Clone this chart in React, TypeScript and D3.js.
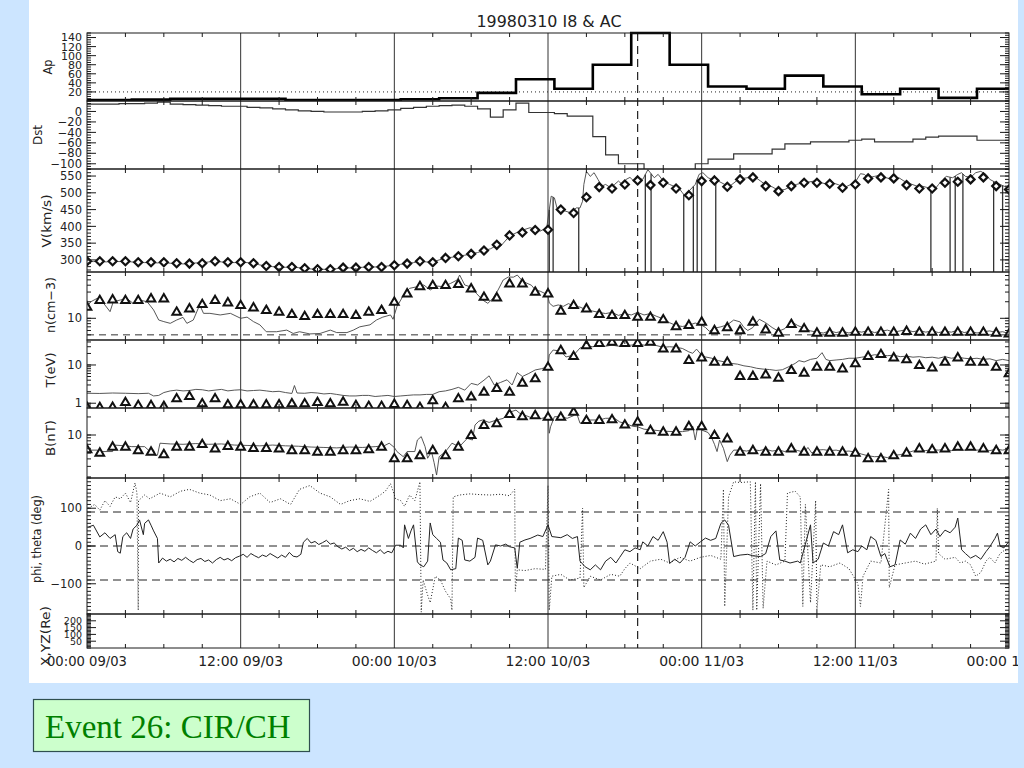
import React from "react";
import * as d3 from "d3";

type Pt = [number, number];

// ================= DATA =================
const title = "19980310 I8 & AC";
const caption = "Event 26: CIR/CH";

// time axis: hours since 00:00 09/03/1998
const xTickHours = [0, 12, 24, 36, 48, 60, 72];
const xTickLabels = ["00:00 09/03", "12:00 09/03", "00:00 10/03", "12:00 10/03", "00:00 11/03", "12:00 11/03", "00:00 12/03"];
const xMinorHours = [3, 6, 9, 15, 18, 21, 27, 30, 33, 39, 42, 45, 51, 54, 57, 63, 66, 69];
const eventHour = 43;
const hourIndex = Array.from({ length: 73 }, (_, i) => i);

// Ap (3-hourly, step plot)
const apHours = [-1, 2, 5, 8, 11, 14, 17, 20, 23, 26, 29, 32, 35, 38, 41, 44, 47, 50, 53, 56, 59, 62, 65, 68, 71, 74];
const apValues = [2, 2, 3, 5, 5, 5, 2, 2, 2, 4, 6, 18, 48, 27, 80, 150, 80, 32, 27, 56, 32, 15, 27, 7, 27, 27];
const apTickValues = [20, 40, 60, 80, 100, 120, 140];
const apRef = 20;

// Dst (hourly, step plot)
const dstValues = [14, 14, 14, 15, 15, 16, 18, 14, 13, 12, 11, 10, 10, 8, 7, 5, 3, 1, 0, -1, -1, -1, 0, 1, 3, 6, 8, 10, 11, 12, 10, 5, -11, 3, 16, -2, -2, -4, -9, -9, -48, -83, -100, -100, -112, -116, -114, -111, -100, -91, -91, -81, -81, -81, -72, -62, -62, -58, -58, -58, -55, -53, -58, -58, -58, -53, -49, -47, -47, -47, -55, -55, -55];
const dstTickValues = [0, -20, -40, -60, -80, -100];

// V (km/s): hourly diamonds + high-res line + data dropouts
const vDiamonds = [296, 296, 296, 296, 293, 293, 293, 290, 289, 290, 296, 293, 293, 290, 282, 279, 279, 275, 272, 272, 277, 277, 279, 279, 284, 289, 296, 293, 306, 311, 318, 328, 345, 373, 382, 389, 390, 450, 440, 487, 517, 513, 525, 537, 523, 530, 513, 493, 535, 537, 518, 540, 546, 520, 505, 520, 530, 530, 527, 515, 525, 543, 546, 543, 523, 513, 513, 530, 533, 540, 546, 520, 510];
const vLine: Pt[] = [[0, 296], [0.5, 295], [1, 296], [1.5, 294], [2, 297], [2.5, 295], [3, 296], [3.5, 294], [4, 293], [4.5, 292], [5, 293], [5.5, 291], [6, 293], [6.5, 290], [7, 290], [7.5, 288], [8, 289], [8.5, 291], [9, 291], [9.5, 294], [10, 296], [10.5, 294], [11, 293], [11.5, 292], [12, 293], [12.5, 292], [13, 290], [13.5, 285], [14, 282], [14.5, 280], [15, 279], [15.5, 278], [16, 279], [16.5, 277], [17, 275], [17.5, 273], [18, 272], [18.5, 272], [19, 272], [19.5, 274], [20, 277], [20.5, 276], [21, 277], [21.5, 278], [22, 279], [22.5, 279], [23, 280], [23.5, 282], [24, 284], [24.5, 287], [25, 289], [25.5, 292], [26, 296], [26.5, 294], [27, 294], [27.5, 300], [28, 306], [28.5, 308], [29, 311], [29.5, 314], [30, 318], [30.5, 322], [31, 328], [31.5, 333], [32, 343], [32.3, 341], [33.0, 371], [33.8, 386], [34.6, 396], [35.4, 386], [35.9, 396], [36.25, 490], [36.5, 485], [36.7, 455], [37.0, 450], [37.4, 445], [37.8, 440], [38.2, 455], [38.5, 455], [38.7, 475], [38.8, 525], [39.0, 564], [39.3, 549], [39.6, 560], [39.9, 540], [40.2, 520], [40.5, 525], [40.9, 515], [41.2, 525], [41.5, 535], [41.8, 525], [42.1, 540], [42.4, 546], [42.7, 535], [43.0, 545], [43.4, 540], [43.8, 569], [44.3, 545], [44.6, 555], [44.9, 540], [45.2, 530], [45.5, 525], [45.8, 520], [46.2, 515], [46.5, 500], [46.7, 490], [47.0, 505], [47.5, 525], [47.8, 555], [48.1, 560], [48.5, 545], [48.8, 540], [49.3, 535], [49.8, 525], [50.2, 520], [50.7, 535], [51.2, 543], [51.6, 545], [52.1, 549], [52.6, 535], [53.0, 524], [53.5, 518], [54.0, 507], [54.5, 510], [54.9, 518], [55.4, 525], [55.9, 530], [56.3, 532], [56.8, 535], [57.3, 530], [57.7, 527], [58.2, 530], [58.7, 524], [59.1, 515], [59.6, 524], [60.1, 538], [60.4, 557], [60.7, 555], [61.0, 545], [61.5, 549], [62.0, 553], [62.4, 545], [62.9, 540], [63.4, 545], [63.8, 535], [64.3, 527], [64.8, 520], [65.2, 520], [65.7, 515], [66.2, 510], [66.5, 525], [66.8, 538], [67.1, 549], [67.6, 545], [68.0, 555], [68.3, 560], [68.6, 549], [69.0, 546], [69.4, 560], [69.8, 564], [70.2, 555], [70.5, 540], [71.0, 530], [71.3, 525], [71.6, 520], [72, 515]];
const vDrops = [36.1, 36.4, 38.4, 43.6, 44.05, 46.6, 47.35, 47.65, 49.1, 65.9, 67.4, 67.8, 68.4, 70.8, 71.5];
const vTickValues = [300, 350, 400, 450, 500, 550];

// n (cm^-3)
const nTriangles = [16.3, 21.5, 22.1, 21.5, 21.5, 23.1, 23.1, 13.2, 15.2, 18.2, 21.5, 19.5, 17.5, 15.8, 14.2, 13.2, 12.0, 11.0, 12.0, 12.0, 12.0, 11.5, 13.2, 14.2, 20.0, 28.5, 38.6, 40.3, 40.3, 42.1, 35.1, 24.7, 24.1, 43.2, 43.2, 30.5, 28.5, 13.8, 17.5, 15.2, 12.0, 11.5, 11.5, 10.7, 10.7, 9.6, 7.2, 7.6, 8.7, 6.1, 6.9, 6.1, 8.7, 6.3, 5.5, 7.9, 6.6, 5.5, 5.5, 5.5, 5.7, 5.7, 5.7, 5.7, 5.9, 5.7, 5.7, 5.7, 5.7, 5.7, 5.7, 5.5, 5.3];
const nLine: Pt[] = [[0, 16.3], [0.3, 20], [0.8, 23.1], [1.3, 18.7], [1.8, 13.2], [2.05, 20], [2.6, 21.5], [3.1, 23.1], [3.6, 18.7], [4.1, 21.5], [4.7, 20], [5.2, 14.2], [5.6, 9.3], [6.0, 8.7], [6.5, 8.1], [7.0, 9.3], [7.5, 10.4], [7.8, 8.1], [8.3, 9.3], [8.8, 17.5], [9.1, 12.3], [9.6, 12.3], [10.4, 11.5], [11.2, 12.3], [12.0, 10], [12.5, 10.5], [13.0, 8.7], [13.5, 7.6], [14.0, 5.7], [14.8, 5.7], [15.6, 6.1], [16.1, 5.3], [16.6, 5.7], [17.4, 5.2], [18.2, 5.3], [19.0, 6.1], [19.5, 5.5], [20.3, 5.5], [20.8, 6.1], [21.3, 7.0], [22.1, 7.6], [22.6, 9.3], [23.1, 10.5], [23.7, 11.5], [23.9, 9.6], [24.2, 16.3], [24.5, 21.5], [24.8, 28.5], [25.2, 35.1], [25.8, 37.6], [26.3, 40.3], [26.8, 32.7], [27.3, 38.6], [27.8, 37.6], [28.4, 43.2], [28.9, 49.7], [29.1, 61.2], [29.5, 40.3], [29.9, 37.6], [30.4, 28.5], [30.9, 21.5], [31.3, 18.7], [31.7, 23.1], [32.1, 32.7], [32.5, 49.7], [32.9, 56.4], [33.3, 56], [33.6, 61.2], [34.0, 48], [34.3, 44], [34.7, 40], [35.0, 33], [35.4, 31], [35.8, 28], [36.0, 25], [36.1, 19], [36.4, 16.5], [36.8, 17.5], [37.2, 16.5], [37.6, 18.5], [38.0, 16.5], [38.5, 16], [39.0, 14.2], [39.5, 13.5], [40.0, 12.8], [40.5, 12.2], [41.0, 12.8], [41.5, 11.3], [42.0, 12.2], [42.5, 11.5], [43.0, 12.8], [43.5, 11.5], [44.0, 12.2], [44.5, 10.8], [45.0, 9.8], [45.5, 8.3], [46.0, 7.4], [46.5, 7.1], [47.0, 7.5], [47.5, 8.2], [48.0, 7.5], [48.3, 6.8], [48.6, 5.8], [49.0, 6.6], [49.5, 7.0], [50.0, 7.6], [50.5, 9.3], [51.0, 8.6], [51.3, 6.8], [51.6, 6.0], [52.0, 6.8], [52.5, 9.6], [53.0, 8.3], [53.5, 6.8], [54.0, 5.8], [54.5, 6.5], [55.0, 8.7], [55.5, 7.4], [56.0, 6.6], [56.5, 5.9], [57.0, 5.6], [57.5, 5.4], [58, 5.9], [58.5, 5.5], [59, 5.8], [59.5, 5.4], [60, 5.9], [60.5, 5.6], [61, 6.0], [61.5, 5.5], [62, 5.8], [62.5, 6.1], [63, 5.6], [63.5, 5.9], [64, 6.2], [64.5, 5.7], [65, 6.0], [65.5, 5.6], [66, 5.9], [66.5, 5.5], [67, 5.8], [67.5, 5.6], [68, 6.1], [68.5, 5.5], [69, 5.8], [69.5, 5.4], [70, 5.7], [70.5, 5.9], [71, 5.5], [71.5, 5.7], [72, 5.3]];
const nRef = 5;
const nTickValues = [10];

// T (eV)
const tTriangles = [0.81, 0.79, 0.81, 1.08, 0.9, 0.9, 0.85, 1.35, 1.55, 1.0, 1.35, 0.94, 0.94, 0.94, 0.94, 0.94, 1.0, 1.0, 1.08, 1.0, 1.1, 0.9, 0.85, 0.85, 0.96, 0.9, 0.8, 1.2, 0.8, 1.35, 1.5, 2.0, 2.5, 2.0, 3.45, 4.5, 9.0, 24.5, 17.2, 33, 38, 40.6, 38, 38, 40.6, 27, 27, 13.5, 15.9, 12.2, 12.2, 5.2, 5.2, 5.7, 4.66, 7.4, 6.3, 9.0, 9.0, 8.2, 11.1, 17.2, 19.4, 15.9, 14.1, 10, 8.7, 12.2, 15.9, 12.2, 12.2, 9.0, 6.1];
const tLine: Pt[] = [[0, 1.82], [1, 1.8], [2, 1.85], [3, 1.82], [4, 1.78], [4.8, 1.82], [5.2, 1.55], [5.6, 1.6], [6.0, 1.9], [6.5, 2.1], [7, 2.2], [7.5, 2.1], [8, 2.15], [8.5, 2.3], [9, 2.25], [9.5, 2.1], [10, 2.2], [10.5, 2.3], [11, 2.1], [11.5, 2.2], [12, 2.25], [12.5, 2.1], [13, 2.15], [13.5, 2.2], [14, 2.1], [14.5, 2.0], [15, 2.05], [15.5, 1.9], [16, 1.8], [16.2, 2.9], [16.4, 1.85], [17, 1.82], [17.5, 1.9], [18, 1.85], [18.5, 1.75], [19, 1.8], [19.5, 1.7], [20, 1.6], [20.5, 1.55], [21, 1.55], [21.5, 1.6], [22, 1.6], [22.5, 1.5], [23, 1.55], [23.5, 1.6], [24, 1.5], [24.5, 1.55], [25, 1.6], [25.5, 1.65], [26, 1.65], [26.5, 1.7], [27, 1.7], [27.5, 2.0], [28, 2.1], [28.5, 2.3], [29, 2.6], [29.5, 2.2], [30, 3.3], [30.5, 3.0], [31.0, 4.0], [31.4, 5.2], [31.8, 3.0], [32.3, 3.5], [32.8, 4.1], [33.2, 3.0], [33.6, 6.3], [34, 5.0], [34.5, 6.0], [35, 7.4], [35.5, 8.0], [36, 9.0], [36.1, 18.3], [36.4, 24.6], [37, 23], [37.4, 16.2], [38, 18], [38.5, 27.8], [39, 31.8], [39.5, 30], [40, 32], [40.5, 31], [41, 33], [41.5, 31], [42, 32], [42.5, 33], [43, 35.4], [43.5, 33], [44, 34], [44.5, 32], [45, 29], [45.5, 30], [46, 29], [46.5, 27], [47, 22], [47.3, 20.2], [47.6, 26], [48, 18], [48.3, 16.2], [48.8, 15], [49.3, 13], [49.8, 12], [50.3, 11], [50.8, 10.5], [51.3, 9.5], [51.8, 9], [52.3, 8.2], [52.8, 7.8], [53.3, 7.6], [53.8, 7.2], [54.3, 7.5], [54.8, 9], [55.3, 11], [55.6, 13], [56, 12], [56.5, 14], [57, 15], [57.4, 21], [57.7, 14], [58, 13], [58.5, 13.5], [59, 14], [59.5, 15], [60, 15], [60.5, 16], [61, 17], [61.5, 18.5], [62, 18], [62.5, 17.5], [63, 18], [63.5, 16.5], [64, 17], [64.5, 16], [65, 16.5], [65.5, 15.5], [66, 16], [66.5, 15], [67, 16.5], [67.5, 15], [68, 16], [68.5, 15], [69, 14.5], [69.5, 15], [70, 14], [70.5, 14.5], [71, 13], [71.5, 14], [72, 13]];
const tTickValues = [1, 10];

// B (nT)
const bTriangles = [5.8, 5.1, 6.4, 6.4, 5.6, 5.3, 4.8, 6.4, 6.4, 7.1, 6.0, 6.6, 6.4, 6.1, 6.1, 6.0, 5.6, 5.6, 5.3, 5.3, 5.6, 5.6, 5.8, 6.4, 4.1, 4.1, 4.6, 5.6, 4.6, 6.4, 10, 14.7, 15.7, 22.4, 20.7, 21.5, 20.2, 20.2, 24.4, 17.8, 17.8, 18.3, 15, 16.7, 12.1, 11.4, 11.4, 14.1, 14.1, 10, 8.8, 5.3, 5.6, 5.3, 5.3, 6.0, 5.3, 5.3, 5.3, 5.3, 5.1, 4.1, 4.1, 4.6, 5.1, 6.0, 5.8, 6.0, 6.4, 6.4, 6.0, 5.6, 5.6];
const bLine: Pt[] = [[0, 5.6], [0.8, 5.6], [1.0, 5.3], [2.0, 5.3], [2.1, 6.8], [3.0, 6.6], [3.5, 6.4], [4.5, 6.4], [4.8, 5.6], [5.2, 5.6], [5.3, 4.6], [5.5, 4.6], [5.7, 7.3], [6.5, 7.1], [7.5, 7.0], [8.5, 7.2], [9.5, 7.0], [10.5, 7.1], [11.5, 6.8], [12.5, 6.7], [13.5, 6.6], [14.5, 6.8], [15.5, 6.6], [16.5, 6.5], [17.5, 6.3], [18.5, 6.2], [19.5, 6.1], [20.5, 6.3], [21.5, 6.2], [22.5, 6.4], [23.2, 6.6], [23.6, 7.3], [24.0, 6.2], [24.2, 5.3], [24.7, 4.35], [25.0, 5.3], [25.6, 5.3], [25.8, 8.25], [26.1, 9.4], [26.4, 6.4], [26.6, 4.1], [26.9, 5.3], [27.1, 3.5], [27.3, 2.15], [27.5, 4.35], [28.0, 5.3], [28.5, 7.3], [28.8, 6.8], [29.2, 6.8], [29.7, 8.8], [30.1, 8.25], [30.3, 14.7], [30.6, 17], [30.9, 17.8], [31.4, 16.2], [32.0, 17.8], [32.5, 18.9], [33.0, 24], [33.5, 26], [33.8, 23], [34.3, 21], [34.8, 19], [35.5, 18.9], [36.0, 20.2], [36.1, 10.7], [36.2, 13.7], [36.5, 20.2], [37.0, 20.2], [37.5, 19], [38.0, 21], [38.2, 24.4], [38.5, 15.7], [39.0, 17.8], [40.0, 17.8], [40.5, 19], [41.2, 19], [41.6, 16.5], [42.0, 15.7], [42.6, 14], [43.0, 13.7], [43.5, 12.5], [44.2, 12.1], [45.0, 11.6], [45.8, 11.4], [46.5, 11.4], [47.0, 11.8], [47.3, 14.1], [47.5, 8.25], [47.7, 14.1], [48.0, 12.1], [48.5, 11], [48.8, 8.8], [49.0, 7], [49.2, 5.3], [49.4, 8.25], [49.7, 6.0], [50.0, 3.6], [50.2, 4.6], [50.5, 5.6], [51.0, 5.6], [51.5, 5.4], [52, 5.7], [52.5, 5.5], [53, 5.8], [53.5, 5.4], [54, 5.6], [54.5, 5.3], [55, 5.9], [55.5, 5.5], [56, 5.2], [56.3, 6.2], [56.6, 5.0], [57, 5.6], [57.5, 5.7], [58, 5.5], [58.5, 5.6], [59, 5.3], [59.5, 5.4], [60, 5.2], [60.5, 4.8], [61, 4.5], [61.5, 4.35], [62, 4.4], [62.5, 4.2], [63, 4.6], [63.5, 4.7], [64, 5.0], [64.5, 5.4], [65, 5.6], [65.5, 5.5], [66, 5.7], [66.5, 5.6], [67, 5.8], [67.5, 5.5], [68, 5.7], [68.5, 5.6], [69, 5.8], [69.5, 5.6], [70, 5.7], [70.5, 5.5], [71, 5.8], [71.5, 5.6], [72, 5.9]];
const bTickValues = [10];

// theta (solid) and phi (dotted), degrees
const thetaLine: Pt[] = [[0.1, 50], [0.5, 55], [1.0, 24], [1.4, 35], [1.8, 20], [2.2, 30], [2.4, -15], [2.6, -19], [2.8, 25], [3.1, 35], [3.4, 20], [3.6, 45], [3.9, 55], [4.1, 69], [4.4, 30], [4.5, 60], [4.8, 69], [5.0, 55], [5.2, 40], [5.5, 20], [5.6, -45], [5.9, -32], [6.2, -40], [6.5, -35], [6.8, -42], [7.1, -33], [7.4, -38], [7.7, -30], [8.0, -38], [8.3, -44], [8.6, -36], [8.9, -33], [9.2, -41], [9.5, -37], [9.8, -45], [10.1, -36], [10.4, -30], [10.7, -37], [11.0, -33], [11.3, -39], [11.6, -31], [11.9, -27], [12.2, -22], [12.5, -30], [12.8, -20], [13.1, -26], [13.4, -31], [13.7, -24], [14.0, -28], [14.3, -20], [14.6, -26], [14.9, -32], [15.2, -24], [15.5, -30], [15.8, -17], [16.1, -27], [16.4, -29], [16.7, -22], [16.9, 10], [17.2, 20], [17.5, 8], [17.8, 12], [18.1, 4], [18.4, 9], [18.7, 15], [19.0, 5], [19.3, 8], [19.6, -2], [19.9, -8], [20.2, -3], [20.5, -12], [20.8, -6], [21.1, -15], [21.4, -9], [21.7, -14], [22.0, -5], [22.3, -12], [22.6, -18], [22.9, -10], [23.2, -20], [23.5, -14], [23.8, -18], [24.1, 2], [24.5, 2], [24.7, -5], [24.8, 56], [25.1, 20], [25.3, 40], [25.5, 56], [25.8, -42], [26.0, -50], [26.3, -55], [26.6, -40], [26.8, 61], [27.0, 30], [27.3, 20], [27.6, 10], [27.8, -37], [28.1, -45], [28.4, -63], [28.8, -60], [29.0, 21], [29.3, 15], [29.5, -37], [29.9, -40], [30.3, -30], [30.5, 21], [30.9, 15], [31.3, -50], [31.5, -40], [31.9, 3], [32.3, 0], [32.7, 5], [33.0, -2], [33.4, -5], [33.6, -59], [33.8, 10], [34.2, 16], [34.6, 20], [35.2, 29], [35.6, 25], [36.0, 56], [36.3, 25], [37.0, 22], [37.5, 30], [37.9, 20], [38.3, 25], [38.5, -40], [38.9, -55], [39.3, -63], [39.7, -50], [40.1, -63], [40.5, -40], [40.9, -30], [41.3, -45], [41.6, -30], [42.0, -10], [42.4, -15], [42.8, -5], [43.2, -10], [43.4, 11], [43.8, 0], [44.2, 25], [44.6, 15], [45.0, 38], [45.3, 10], [45.5, -46], [45.9, -35], [46.3, -45], [46.7, -30], [47.1, 11], [47.5, 0], [47.9, 11], [48.3, 21], [48.7, 15], [49.1, 20], [49.5, 60], [49.8, 69], [50.1, 55], [50.5, -28], [51.0, -24], [51.6, -22], [52.0, -26], [52.6, -28], [53.0, -20], [53.4, 25], [53.8, 40], [54.1, -37], [54.5, -40], [54.9, -45], [55.5, -40], [55.7, -45], [56.1, 5], [56.5, 56], [56.7, -45], [57.1, -35], [57.5, 8], [57.9, 0], [58.3, 38], [58.7, 30], [59.0, 56], [59.4, -18], [59.8, -10], [60.2, -15], [60.5, 0], [60.9, -10], [61.2, 25], [61.6, 15], [62.0, -28], [62.3, -20], [62.7, -55], [63.1, -50], [63.5, 16], [63.9, 5], [64.3, 34], [64.7, 20], [65.1, 45], [65.5, 56], [65.9, 30], [66.3, 45], [66.6, 25], [67.0, 42], [67.4, 35], [67.8, 50], [68.0, 74], [68.3, -10], [68.6, -20], [69.0, -32], [69.4, -25], [69.8, -35], [70.2, -15], [70.5, -2], [70.9, 20], [71.1, 34], [71.3, 0], [71.6, -5], [71.95, 10]];
const phiLine: Pt[] = [[0.1, 100], [0.6, 110], [1.0, 95], [1.4, 120], [1.8, 105], [2.2, 130], [2.6, 125], [3.0, 140], [3.4, 115], [3.75, 167], [3.9, 140], [4.0, -170], [4.02, 120], [4.5, 135], [4.9, 125], [5.7, 140], [6.5, 130], [7.3, 145], [8.0, 150], [8.8, 140], [9.6, 135], [10.4, 120], [11.2, 125], [12.0, 110], [12.7, 130], [13.5, 140], [14.3, 115], [15.1, 125], [15.9, 110], [16.6, 150], [17.4, 160], [18.2, 140], [19.0, 130], [19.8, 110], [20.5, 120], [21.3, 125], [22.1, 118], [22.9, 135], [23.3, 145], [23.7, 165], [24.1, 125], [24.5, 120], [24.8, 105], [25.2, 135], [25.6, 120], [26.0, 170], [26.1, -175], [26.25, -90], [26.6, -130], [26.8, -150], [27.2, -80], [27.6, -90], [28.0, -120], [28.4, -140], [28.5, -170], [28.6, 130], [29.1, 135], [29.9, 138], [30.7, 136], [31.5, 135], [32.3, 137], [33.0, 133], [33.4, 150], [33.45, -120], [33.6, -63], [34.2, -65], [35.0, -60], [35.8, -62], [36.0, 160], [36.1, -170], [36.3, -80], [37.0, -75], [37.7, -90], [38.5, -85], [38.7, 100], [38.8, -110], [39.3, -80], [40.1, -90], [40.9, -75], [41.6, -80], [42.0, -60], [42.4, -45], [43.2, -60], [44.0, -40], [44.8, -35], [45.5, -45], [46.3, -30], [47.1, -40], [47.9, -30], [48.7, -25], [49.5, -35], [49.7, 150], [49.8, -160], [50.1, 130], [50.5, 170], [51.0, 168], [51.8, 170], [52.0, -170], [52.2, 170], [52.3, -170], [52.6, 165], [52.8, -165], [53.1, -40], [53.8, -50], [54.5, -40], [54.7, 140], [55.3, 145], [55.7, 130], [55.9, -160], [56.1, 110], [56.5, -150], [56.9, 120], [57.0, -170], [57.3, -50], [58.0, -55], [58.8, -45], [59.5, -60], [60.2, -100], [60.4, -160], [60.6, -80], [61.2, -40], [62.0, -45], [62.6, 150], [62.65, -110], [63.1, -50], [63.9, -45], [64.7, -40], [65.4, -48], [66.3, -40], [66.4, 100], [66.5, -20], [67.0, -35], [67.8, -30], [68.2, -45], [68.6, -40], [69.0, -50], [69.4, -80], [69.8, -70], [70.2, -40], [70.5, -30], [70.9, -45], [71.3, -20], [71.7, -10], [71.95, -25]];
const angTickValues = [-100, 0, 100];
const angRefs = [-90, 0, 90];

// X, YZ (Re)
const xyzTickValues = [50, 100, 150, 200];

// ================= LAYOUT =================
const L = 87;
const R = 1009;
const x = d3.scaleLinear().domain([0, 72]).range([L, R]);

const yAp = d3.scaleLinear().domain([0, 150]).range([101, 33]);
const yDst = d3.scaleLinear().domain([-110, 20]).range([169, 101]);
const yV = d3.scaleLinear().domain([264, 571]).range([272, 169]);
const yN = d3.scaleLog().domain([4.03, 69.5]).range([340, 272]);
const yT = d3.scaleLog().domain([0.75, 45]).range([408, 340]);
const yB = d3.scaleLog().domain([1.92, 28.2]).range([478, 408]);
const yAng = d3.scaleLinear().domain([-180, 180]).range([614, 478]);
const yXyz = d3.scaleLinear().domain([0, 250]).range([648, 614]);

function linMinors(dom: number[], step: number) {
  const a = Math.min(dom[0], dom[1]);
  const b = Math.max(dom[0], dom[1]);
  const out: number[] = [];
  for (let v = Math.ceil(a / step) * step; v <= b + 1e-9; v += step) out.push(v);
  return out;
}
function logMinors(dom: number[]) {
  const out: number[] = [];
  const a = dom[0], b = dom[1];
  for (let e = Math.floor(Math.log10(a)); e <= Math.ceil(Math.log10(b)); e++) {
    for (let m = 1; m <= 9; m++) {
      const v = m * Math.pow(10, e);
      if (v >= a && v <= b) out.push(v);
    }
  }
  return out;
}

type Panel = {
  id: string; top: number; bot: number; y: any; labels: number[]; majors: number[]; minors: number[];
  title: string; tx: number; ty: number; tlen: number; fs: number;
};

const panels: Panel[] = [
  { id: "ap", top: 33, bot: 101, y: yAp, labels: apTickValues, majors: apTickValues, minors: linMinors([0, 150], 5), title: "Ap", tx: 48, ty: 67, tlen: 15, fs: 11 },
  { id: "dst", top: 101, bot: 169, y: yDst, labels: dstTickValues, majors: dstTickValues, minors: linMinors([-110, 20], 5), title: "Dst", tx: 38, ty: 135, tlen: 20, fs: 11.5 },
  { id: "v", top: 169, bot: 272, y: yV, labels: vTickValues, majors: vTickValues, minors: linMinors([264, 571], 10), title: "V(km/s)", tx: 47, ty: 221, tlen: 53, fs: 11.5 },
  { id: "n", top: 272, bot: 340, y: yN, labels: nTickValues, majors: nTickValues, minors: logMinors([4.03, 69.5]), title: "n(cm\u22123)", tx: 51, ty: 305, tlen: 56, fs: 11.5 },
  { id: "t", top: 340, bot: 408, y: yT, labels: tTickValues, majors: tTickValues, minors: logMinors([0.75, 45]), title: "T(eV)", tx: 51, ty: 370, tlen: 35, fs: 11.5 },
  { id: "b", top: 408, bot: 478, y: yB, labels: bTickValues, majors: bTickValues, minors: logMinors([1.92, 28.2]), title: "B(nT)", tx: 51, ty: 438, tlen: 36, fs: 11.5 },
  { id: "ang", top: 478, bot: 614, y: yAng, labels: angTickValues, majors: angTickValues, minors: linMinors([-180, 180], 10), title: "phi, theta (deg)", tx: 37, ty: 539, tlen: 88, fs: 11.5 },
  { id: "xyz", top: 614, bot: 648, y: yXyz, labels: xyzTickValues, majors: xyzTickValues, minors: linMinors([0, 250], 10), title: "X,YZ(Re)", tx: 46, ty: 636, tlen: 60, fs: 9.5 },
];

const INK = "#1a1a1a";
const SANS = "'DejaVu Sans', 'Liberation Sans', sans-serif";

function fmt(v: number) {
  return v < 0 ? "\u2212" + Math.abs(v) : String(v);
}

function interpAt(pts: Pt[], h: number) {
  const i = d3.bisector((d: Pt) => d[0]).left(pts, h);
  if (i <= 0) return pts[0][1];
  if (i >= pts.length) return pts[pts.length - 1][1];
  const a = pts[i - 1], b = pts[i];
  return a[1] + ((b[1] - a[1]) * (h - a[0])) / (b[0] - a[0]);
}

function Diamond({ cx, cy }: { cx: number; cy: number }) {
  const s = 4;
  return <path d={`M${cx},${cy - s}L${cx + s},${cy}L${cx},${cy + s}L${cx - s},${cy}Z`} fill="#fff" stroke="#111" strokeWidth={2.2} />;
}
function Tri({ cx, cy }: { cx: number; cy: number }) {
  return <path d={`M${cx},${cy - 4.3}L${cx + 4.3},${cy + 3.1}L${cx - 4.3},${cy + 3.1}Z`} fill="#fff" stroke="#111" strokeWidth={2} strokeLinejoin="miter" />;
}

export default function App() {
  const line = (y: any, curve?: any) => {
    const g = d3.line<Pt>().x((d) => x(d[0])).y((d) => y(d[1]));
    if (curve) g.curve(curve);
    return g;
  };
  const apPts: Pt[] = apHours.map((h, i) => [h, apValues[i]]);
  const dstPts: Pt[] = hourIndex.map((h, i) => [h, dstValues[i]]);

  return (
    <svg width={1024} height={768} style={{ position: "absolute", left: 0, top: 0 }} fontFamily={SANS}>
      <rect x={0} y={0} width={1024} height={768} fill="#cce5ff" />
      <rect x={29} y={0} width={989} height={683} fill="#ffffff" />
      <defs>
        {panels.map((p) => (
          <clipPath id={`clip-${p.id}`} key={p.id}>
            <rect x={L} y={p.top - (p.id === "ap" ? 2 : 0)} width={R - L} height={p.bot - p.top + (p.id === "ap" ? 2 : 0)} />
          </clipPath>
        ))}
      </defs>

      {/* title */}
      <text x={549} y={27} textAnchor="middle" fontSize={15} fill="#222" textLength={145} lengthAdjust="spacingAndGlyphs">{title}</text>

      {/* reference lines */}
      <line x1={L} x2={R} y1={yAp(apRef)} y2={yAp(apRef)} stroke="#222" strokeWidth={1} strokeDasharray="1,3" />
      <line x1={L} x2={R} y1={yN(nRef)} y2={yN(nRef)} stroke="#333" strokeWidth={1} strokeDasharray="7,5" />
      {angRefs.map((a) => (
        <line key={a} x1={L} x2={R} y1={yAng(a)} y2={yAng(a)} stroke="#222" strokeWidth={1} strokeDasharray="8,5" />
      ))}

      {/* vertical grid lines at 12 h */}
      {xTickHours.slice(1, -1).map((h) => (
        <line key={h} x1={x(h)} x2={x(h)} y1={33} y2={648} stroke="#333" strokeWidth={1} />
      ))}
      <line x1={x(eventHour)} x2={x(eventHour)} y1={33} y2={648} stroke="#222" strokeWidth={1.2} strokeDasharray="8,5" />

      {/* data */}
      <g clipPath="url(#clip-ap)">
        <path d={line(yAp, d3.curveStep)(apPts) || ""} fill="none" stroke="#000" strokeWidth={2.6} />
      </g>
      <g clipPath="url(#clip-dst)">
        <path d={line(yDst, d3.curveStep)(dstPts) || ""} fill="none" stroke="#333" strokeWidth={1.2} />
      </g>
      <g clipPath="url(#clip-v)">
        <path d={line(yV)(vLine) || ""} fill="none" stroke="#444" strokeWidth={0.9} />
        {vDrops.map((h, i) => (
          <line key={i} x1={x(h)} x2={x(h)} y1={272} y2={yV(interpAt(vLine, h))} stroke="#333" strokeWidth={1.3} />
        ))}
        {hourIndex.map((h, i) => (
          <Diamond key={i} cx={x(h)} cy={yV(vDiamonds[i])} />
        ))}
      </g>
      <g clipPath="url(#clip-n)">
        <path d={line(yN)(nLine) || ""} fill="none" stroke="#444" strokeWidth={0.9} />
        {hourIndex.map((h, i) => (
          <Tri key={i} cx={x(h)} cy={yN(nTriangles[i])} />
        ))}
      </g>
      <g clipPath="url(#clip-t)">
        <path d={line(yT)(tLine) || ""} fill="none" stroke="#444" strokeWidth={0.9} />
        {hourIndex.map((h, i) => (
          <Tri key={i} cx={x(h)} cy={yT(tTriangles[i])} />
        ))}
      </g>
      <g clipPath="url(#clip-b)">
        <path d={line(yB)(bLine) || ""} fill="none" stroke="#444" strokeWidth={0.9} />
        {hourIndex.map((h, i) => (
          <Tri key={i} cx={x(h)} cy={yB(bTriangles[i])} />
        ))}
      </g>
      <g clipPath="url(#clip-ang)">
        <path d={line(yAng)(phiLine) || ""} fill="none" stroke="#222" strokeWidth={1} strokeDasharray="1,2" />
        <path d={line(yAng)(thetaLine) || ""} fill="none" stroke="#222" strokeWidth={1} />
      </g>

      {/* frames, ticks, labels */}
      {panels.map((p) => (
        <g key={p.id}>
          <rect x={L} y={p.top} width={R - L} height={p.bot - p.top} fill="none" stroke={INK} strokeWidth={1} />
          {p.minors.map((v, i) => (
            <g key={"m" + i}>
              <line x1={L} x2={L + 4} y1={p.y(v)} y2={p.y(v)} stroke={INK} strokeWidth={1} />
              <line x1={R - 4} x2={R} y1={p.y(v)} y2={p.y(v)} stroke={INK} strokeWidth={1} />
            </g>
          ))}
          {p.majors.map((v, i) => (
            <g key={"M" + i}>
              <line x1={L} x2={L + 9} y1={p.y(v)} y2={p.y(v)} stroke={INK} strokeWidth={1} />
              <line x1={R - 9} x2={R} y1={p.y(v)} y2={p.y(v)} stroke={INK} strokeWidth={1} />
            </g>
          ))}
          {xMinorHours.map((h) => (
            <g key={"x" + h}>
              <line x1={x(h)} x2={x(h)} y1={p.top} y2={p.top + 4} stroke={INK} strokeWidth={1} />
              <line x1={x(h)} x2={x(h)} y1={p.bot - 4} y2={p.bot} stroke={INK} strokeWidth={1} />
            </g>
          ))}
          {p.labels.map((v, i) => (
            <text key={"l" + i} x={82} y={p.y(v)} dy="0.36em" textAnchor="end" fontSize={p.fs} fill="#222">
              {fmt(v)}
            </text>
          ))}
          <text
            transform={`translate(${p.tx},${p.ty}) rotate(-90)`}
            textAnchor="middle"
            dy="0.35em"
            fontSize={12.5}
            fill="#222"
            textLength={p.tlen}
            lengthAdjust="spacingAndGlyphs"
          >
            {p.title}
          </text>
        </g>
      ))}

      {/* x axis labels */}
      {xTickHours.map((h, i) => (
        <text key={h} x={x(h)} y={666} textAnchor="middle" fontSize={14} fill="#222" textLength={h === 0 ? 80 : 85} lengthAdjust="spacingAndGlyphs">
          {xTickLabels[i]}
        </text>
      ))}
      {/* blue border on the right covers overflow */}
      <rect x={1018} y={0} width={6} height={768} fill="#cce5ff" />

      {/* caption */}
      <rect x={33.5} y={699.5} width={276} height={52} fill="#ccffcc" stroke="#2f4f4f" strokeWidth={1.2} />
      <text x={45} y={738} fontFamily="'Liberation Serif', 'Times New Roman', serif" fontSize={33} fill="#008000">
        {caption}
      </text>
    </svg>
  );
}
